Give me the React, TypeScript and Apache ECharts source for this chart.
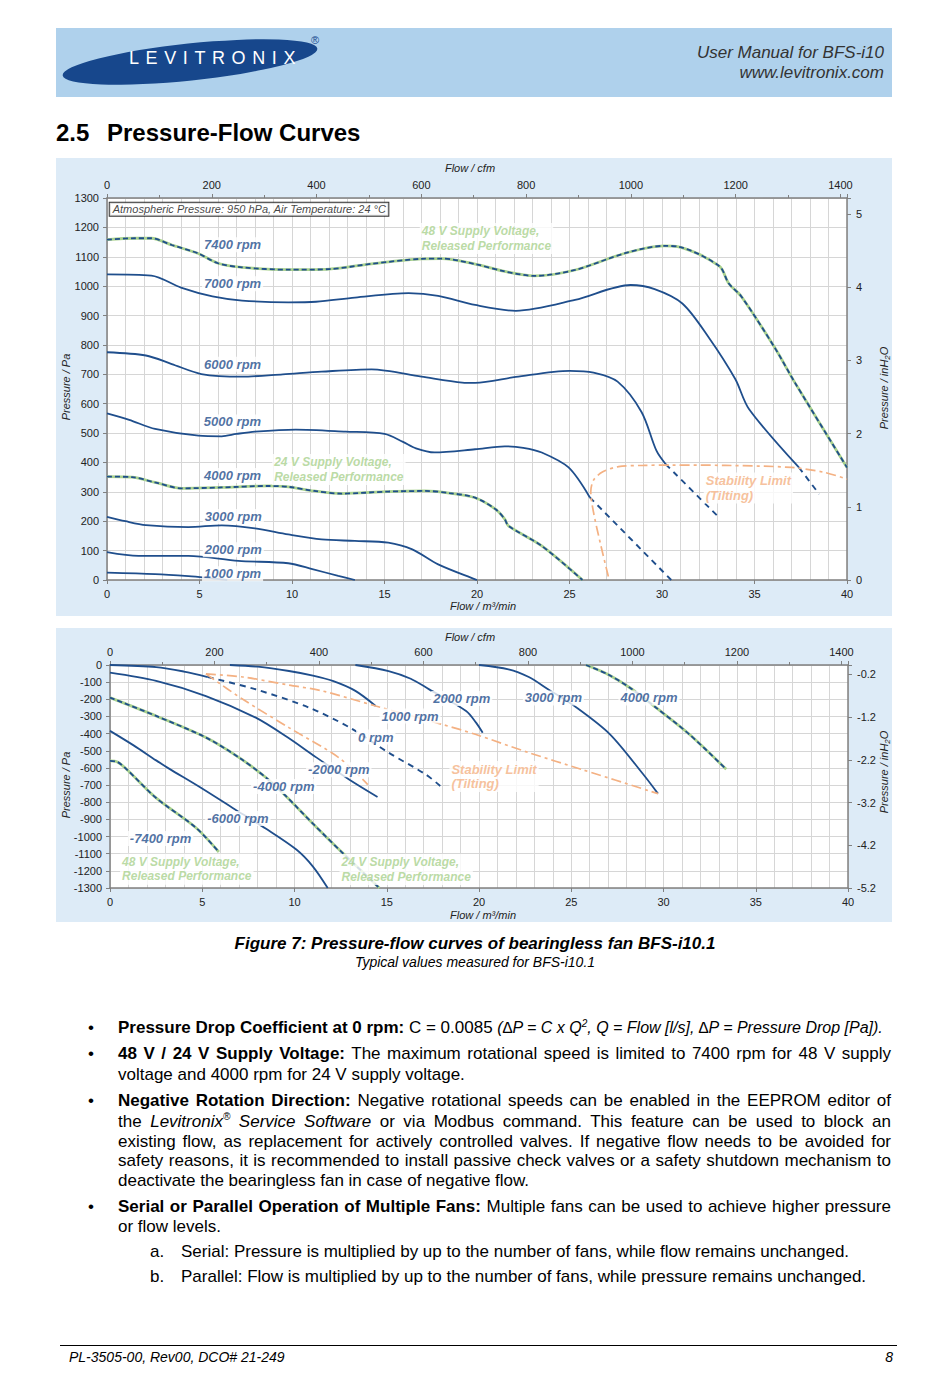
import React, { useEffect, useRef } from 'react';
import * as echarts from 'echarts';

type Pt = [number, number];

// ---------- Upper diagram: flow [m³/min] vs. pressure [Pa] ----------
const upper7400: Pt[] = [[0, 1158], [1.5, 1163], [2.4, 1163], [3.5, 1140], [4.9, 1112], [6.0, 1078], [7.3, 1064], [9.8, 1056], [12, 1058], [14.3, 1076], [17.0, 1093], [18.1, 1094], [19.9, 1075], [21.5, 1050], [23.1, 1035], [25.3, 1055], [28.0, 1112], [30.1, 1137], [30.9, 1134], [33.1, 1068], [33.6, 1010], [34.3, 964], [36.1, 790], [37.2, 670], [40, 383]];
const upper7000: Pt[] = [[0, 1040], [2.4, 1036], [4.0, 995], [5.7, 965], [7.3, 951], [9.8, 945], [11.3, 947], [13.4, 961], [16.3, 976], [17.9, 967], [19.9, 936], [22.1, 916], [25.3, 953], [28.3, 1004], [29.6, 990], [31.1, 941], [32.5, 828], [33.96, 684], [34.7, 582], [37.4, 383]];
const upper7000Unstable: Pt[] = [[37.4, 383], [38.5, 292]];
const upper6000: Pt[] = [[0, 775], [2.1, 764], [3.5, 735], [5.1, 701], [7.3, 692], [9.5, 700], [11.6, 709], [14.3, 717], [17.0, 692], [19.2, 672], [19.9, 671], [22.1, 691], [25.0, 712], [26.3, 706], [27.6, 675], [28.9, 571], [29.7, 440], [30.2, 394]];
const upper6000Unstable: Pt[] = [[30.2, 394], [33.0, 218]];
const upper5000: Pt[] = [[0, 567], [1.2, 545], [2.6, 514], [4.95, 491], [6.2, 489], [7.0, 497], [8.0, 505], [10.2, 512], [12.9, 505], [15.0, 497], [16.0, 470], [16.7, 448], [17.7, 434], [19.9, 445], [21.5, 455], [22.5, 450], [23.5, 434], [24.95, 383], [26.1, 281]];
const upper5000Unstable: Pt[] = [[26.1, 281], [30.5, 0]];
const upper4000: Pt[] = [[0, 352], [1.35, 350], [2.6, 332], [4.05, 312], [6.2, 315], [8.7, 320], [9.8, 317], [11.2, 303], [12.7, 294], [15.2, 301], [17.2, 303], [18.5, 296], [19.9, 280], [21.0, 241], [21.5, 207], [21.7, 184], [23.5, 116], [25.7, 0]];
const upper3000: Pt[] = [[0, 215], [1.0, 200], [2.1, 187], [4.4, 180], [6.2, 186], [8.0, 176], [9.8, 155], [11.6, 138], [13.4, 133], [15.2, 127], [16.5, 104], [17.9, 53], [19.9, 2], [20.0, 0]];
const upper2000: Pt[] = [[0, 95], [1.7, 82], [4.4, 82], [7.1, 65], [9.8, 57], [11.1, 37], [12.5, 14], [13.4, 0]];
const upper1000: Pt[] = [[0, 25], [2.6, 20], [4.4, 13], [5.3, 8], [6.5, 0]];
const upperStability: Pt[] = [[27.1, 12], [26.7, 116], [26.3, 230], [26.15, 300], [26.3, 340], [26.8, 368], [27.65, 386], [29.0, 390], [30.5, 391], [33.4, 390], [37.0, 383], [38.8, 366], [40, 343]];

// ---------- Lower diagram: flow [m³/min] vs. pressure [Pa] ----------
const lower4000: Pt[] = [[25.8, 0], [27.0, -55], [28.2, -134], [29.6, -249], [31.4, -404], [33.4, -608]];
const lower3000: Pt[] = [[20.0, 0], [21.6, -25], [22.7, -70], [23.7, -138], [25.3, -249], [27.1, -404], [28.9, -637], [29.7, -750]];
const lower2000: Pt[] = [[13.3, 0], [15.1, -35], [16.3, -80], [17.3, -142], [19.3, -268], [19.84, -336], [20.2, -395]];
const lower1000: Pt[] = [[6.5, 0], [8.0, -10], [9.7, -35], [11.0, -62], [12.07, -93], [13.3, -151], [14.4, -239]];
const lower0: Pt[] = [[0, 0], [2.5, -12], [4.0, -38], [5.3, -70]];
const lower0Unstable: Pt[] = [[5.3, -70], [7.9, -142], [10.8, -249], [13.0, -365], [15.1, -511], [17.1, -637], [17.9, -705]];
const lowerM2000: Pt[] = [[0, -45], [2.5, -93], [5.2, -181], [7.9, -307], [9.6, -420], [11.2, -540], [13.0, -670], [14.5, -769]];
const lowerM4000: Pt[] = [[0, -190], [2.5, -297], [5.2, -423], [7.0, -540], [8.45, -656], [9.54, -765], [11.0, -925], [12.6, -1095], [14.6, -1300]];
const lowerM6000: Pt[] = [[0, -384], [1.3, -470], [2.5, -556], [3.2, -604], [4.84, -710], [6.65, -833], [8.46, -955], [10.1, -1076], [11.0, -1175], [11.8, -1300]];
const lowerM7400: Pt[] = [[0, -559], [0.4, -565], [0.9, -608], [2.5, -775], [4.66, -949], [5.9, -1090]];
const lowerStabilityUpper: Pt[] = [[5.2, -52], [7.2, -70], [9.7, -117], [11.5, -151], [14.4, -239], [18.0, -346], [19.8, -404], [22.7, -511], [25.6, -610], [29.7, -750]];
const lowerStabilityLower: Pt[] = [[5.2, -52], [7.2, -200], [9.7, -365], [12.4, -540], [13.97, -697]];

// ---------- axes ----------
const FLOW_MAX = 40;
const CFM_PER_M3MIN = 35.3147;
const PA_PER_INH2O = 249.0889;
const UPPER_PA = [0, 1300];
const LOWER_PA = [-1300, 0];

// ---------- annotations: [text, flow, pressure] ----------
const upperRpmNotes: [string, number, number][] = [['7400 rpm', 5.11, 1141], ['7000 rpm', 5.11, 1008], ['6000 rpm', 5.11, 734], ['5000 rpm', 5.1, 538], ['4000 rpm', 5.11, 356], ['3000 rpm', 5.15, 216], ['2000 rpm', 5.15, 103], ['1000 rpm', 5.11, 21]];
const upperGreenNotes: [string, number, number][] = [['48 V Supply Voltage,\nReleased Performance', 16.88, 1162], ['24 V Supply Voltage,\nReleased Performance', 8.9, 376]];
const upperOrangeNotes: [string, number, number][] = [['Stability Limit\n(Tilting)', 32.23, 313]];
const upperBoxNotes: [string, number, number][] = [['Atmospheric Pressure: 950 hPa, Air Temperature: 24 °C', 0.12, 1262]];
const lowerRpmNotes: [string, number, number][] = [['2000 rpm', 17.38, -196], ['3000 rpm', 22.35, -192], ['4000 rpm', 27.53, -192], ['1000 rpm', 14.58, -298], ['0 rpm', 13.31, -420], ['-2000 rpm', 10.6, -610], ['-4000 rpm', 7.62, -709], ['-6000 rpm', 5.13, -895], ['-7400 rpm', 0.94, -1012]];
const lowerGreenNotes: [string, number, number][] = [['48 V Supply Voltage,\nReleased Performance', 0.52, -1190], ['24 V Supply Voltage,\nReleased Performance', 12.41, -1192]];
const lowerOrangeNotes: [string, number, number][] = [['Stability Limit\n(Tilting)', 18.37, -650]];

const NAVY = '#1f4e8c';
const GREEN = '#a9d18e';
const ORANGE = '#f4b183';
const AXIS = '#808080';
const GRID = '#d6d6d6';
const FONT = '"Liberation Sans", Arial, Helvetica, sans-serif';

const SMOOTH = 0.3;
const solid = (data: Pt[]) => ({
  type: 'line', data, showSymbol: false, symbol: 'none', smooth: SMOOTH, silent: true, z: 3,
  lineStyle: { color: NAVY, width: 1.8 },
});
const dashed = (data: Pt[]) => ({
  type: 'line', data, showSymbol: false, symbol: 'none', smooth: SMOOTH, silent: true, z: 3,
  lineStyle: { color: NAVY, width: 1.9, type: [6, 5] },
});
const released = (data: Pt[]) => [
  { type: 'line', data, showSymbol: false, symbol: 'none', smooth: SMOOTH, silent: true, z: 3, lineStyle: { color: GREEN, width: 2.8 } },
  { type: 'line', data, showSymbol: false, symbol: 'none', smooth: SMOOTH, silent: true, z: 4, lineStyle: { color: NAVY, width: 1.8, type: [5, 3] } },
];
const stability = (data: Pt[]) => ({
  type: 'line', data, showSymbol: false, symbol: 'none', smooth: SMOOTH, silent: true, z: 3,
  lineStyle: { color: ORANGE, width: 1.7, type: [10, 4, 3, 4] },
});
const notes = (items: [string, number, number][], style: any) => ({
  type: 'scatter', symbolSize: 1, silent: true, z: 20, itemStyle: { color: 'rgba(0,0,0,0)' },
  data: items.map(([text, q, p]) => ({ value: [q, p], label: { formatter: text } })),
  label: { show: true, position: 'right', distance: 0, backgroundColor: '#fff', padding: [1, 2], fontFamily: FONT, ...style },
});
const rpmStyle = { color: NAVY, fontSize: 13, fontWeight: 'bold', fontStyle: 'italic' };
const greenStyle = { color: GREEN, fontSize: 12, fontWeight: 'bold', fontStyle: 'italic', lineHeight: 14.5 };
const orangeStyle = { color: ORANGE, fontSize: 13, fontWeight: 'bold', fontStyle: 'italic', lineHeight: 14.5 };
const boxStyle = { color: '#111', fontSize: 11, fontStyle: 'italic', borderColor: '#000', borderWidth: 1, padding: [1, 2, 1, 3] };

const axisLine = { show: true, onZero: false, lineStyle: { color: AXIS, width: 1.5 } };
const tickLabel = { color: '#222', fontSize: 11, fontFamily: FONT };
const plain = (v: number) => String(v);

function buildAxes(pa: number[], upper: boolean) {
  const inMin = pa[0] / PA_PER_INH2O;
  const inMax = pa[1] / PA_PER_INH2O;
  return {
    xAxis: [
      {
        type: 'value', position: 'bottom', min: 0, max: FLOW_MAX, interval: 5, axisLine,
        axisTick: { show: true, length: 4, lineStyle: { color: AXIS } },
        minorTick: { show: false, splitNumber: 5 },
        axisLabel: { ...tickLabel, margin: 8, formatter: plain },
        splitLine: { show: true, lineStyle: { color: GRID, width: 1 } },
        minorSplitLine: { show: true, lineStyle: { color: GRID, width: 1 } },
      },
      {
        type: 'value', position: 'top', min: 0, max: FLOW_MAX * CFM_PER_M3MIN, interval: 200, axisLine,
        axisTick: { show: true, length: 4, lineStyle: { color: AXIS } },
        minorTick: { show: true, splitNumber: 2, length: 3, lineStyle: { color: AXIS } },
        axisLabel: { ...tickLabel, margin: 8, formatter: (v: number) => (Math.abs(v % 200) < 1e-6 ? String(v) : '') },
        splitLine: { show: false },
      },
    ],
    yAxis: [
      {
        type: 'value', position: 'left', min: pa[0], max: pa[1], interval: 100, axisLine,
        axisTick: { show: true, length: 4, lineStyle: { color: AXIS } },
        axisLabel: { ...tickLabel, margin: 8, formatter: plain },
        splitLine: { show: true, lineStyle: { color: GRID, width: 1 } },
      },
      {
        type: 'value', position: 'right', min: inMin, max: inMax, interval: 1, axisLine,
        axisTick: { show: true, length: 4, lineStyle: { color: AXIS } },
        axisLabel: {
          ...tickLabel, margin: 9,
          formatter: (v: number) => upper ? (Number.isInteger(v) ? String(v) : '') : (v > -0.1 ? '' : v.toFixed(1)),
        },
        splitLine: { show: false },
      },
    ],
  };
}

function axisNames(topY: number, bottomY: number, leftY: number, rightY: number) {
  const base = { fill: '#222', fontSize: 11, fontStyle: 'italic', fontFamily: FONT, align: 'center', verticalAlign: 'middle' };
  return [
    { type: 'text', x: 414, y: topY, silent: true, style: { ...base, text: 'Flow / cfm' } },
    { type: 'text', x: 427, y: bottomY, silent: true, style: { ...base, text: 'Flow / m³/min' } },
    { type: 'text', x: 10, y: leftY, rotation: Math.PI / 2, silent: true, style: { ...base, text: 'Pressure / Pa' } },
    {
      type: 'text', x: 828, y: rightY, rotation: Math.PI / 2, silent: true,
      style: {
        ...base, text: '{a|Pressure / inH}{b|2}{a|O}',
        rich: {
          a: { fill: '#222', fontSize: 11, fontStyle: 'italic', fontFamily: FONT },
          b: { fill: '#222', fontSize: 8, fontStyle: 'italic', fontFamily: FONT, lineHeight: 15, verticalAlign: 'bottom' },
        },
      },
    },
  ];
}

const upperOption: any = {
  animation: false,
  backgroundColor: '#ddebf7',
  textStyle: { fontFamily: FONT },
  grid: { left: 51, top: 40, width: 740, height: 382, show: true, backgroundColor: '#fff', borderWidth: 0 },
  ...buildAxes(UPPER_PA, true),
  graphic: axisNames(10, 448, 229, 230),
  series: [
    ...released(upper7400),
    solid(upper7000), dashed(upper7000Unstable),
    solid(upper6000), dashed(upper6000Unstable),
    solid(upper5000), dashed(upper5000Unstable),
    ...released(upper4000),
    solid(upper3000), solid(upper2000), solid(upper1000),
    stability(upperStability),
    notes(upperRpmNotes, rpmStyle),
    notes(upperGreenNotes, greenStyle),
    notes(upperOrangeNotes, orangeStyle),
    notes(upperBoxNotes, boxStyle),
  ],
};

const lowerOption: any = {
  animation: false,
  backgroundColor: '#ddebf7',
  textStyle: { fontFamily: FONT },
  grid: { left: 54, top: 37, width: 738, height: 223, show: true, backgroundColor: '#fff', borderWidth: 0 },
  ...buildAxes(LOWER_PA, false),
  graphic: axisNames(9, 287, 157, 144),
  series: [
    solid(lower0), dashed(lower0Unstable),
    solid(lower1000), solid(lower2000), solid(lower3000),
    ...released(lower4000),
    solid(lowerM2000),
    ...released(lowerM4000),
    solid(lowerM6000),
    ...released(lowerM7400),
    stability(lowerStabilityUpper), stability(lowerStabilityLower),
    notes(lowerRpmNotes, rpmStyle),
    notes(lowerGreenNotes, greenStyle),
    notes(lowerOrangeNotes, orangeStyle),
  ],
};

function ChartPanel({ option, left, top, width, height }: any) {
  const ref = useRef<HTMLDivElement>(null);
  useEffect(() => {
    const chart = echarts.init(ref.current as HTMLDivElement, null, { renderer: 'svg' });
    chart.setOption(option);
    return () => chart.dispose();
  }, [option]);
  return (
    <div
      ref={ref}
      style={{ position: 'absolute', left, top, width, height, outline: '1px solid #a0a0a0', outlineOffset: -1 }}
    />
  );
}

const abs = (style: any) => ({ position: 'absolute' as const, fontFamily: FONT, color: '#000', ...style });

function JLine({ y, justify = true, children }: any) {
  return (
    <div style={abs({ left: 118, width: 773, top: y - 10, fontSize: 17, lineHeight: '20px', textAlign: justify ? 'justify' : 'left', textAlignLast: justify ? 'justify' : 'left' })}>
      {children}
    </div>
  );
}
const Bullet = ({ y }: any) => <div style={abs({ left: 88, top: y - 10, fontSize: 17, lineHeight: '20px' })}>•</div>;

export default function App() {
  return (
    <div style={{ position: 'absolute', left: 0, top: 0, width: 950, height: 1379, background: '#fff', overflow: 'hidden' }}>
      {/* header */}
      <div style={{ position: 'absolute', left: 56, top: 28, width: 836, height: 69, background: '#afd1ec' }} />
      <svg style={{ position: 'absolute', left: 56, top: 28 }} width={300} height={69}>
        <ellipse cx={134} cy={34} rx={128} ry={18.5} fill="#17478c" transform="rotate(-6 134 34)" />
        <text x={73} y={36} fill="#fff" fontFamily={FONT} fontSize={18} letterSpacing={6.6}>LEVITRONIX</text>
        <text x={255} y={16} fill="#17478c" fontFamily={FONT} fontSize={11}>®</text>
      </svg>
      <div style={abs({ right: 950 - 884, top: 43, fontSize: 17, fontStyle: 'italic', color: '#333', lineHeight: '20px', textAlign: 'right' })}>User Manual for BFS-i10</div>
      <div style={abs({ right: 950 - 884, top: 63, fontSize: 17, fontStyle: 'italic', color: '#333', lineHeight: '20px', textAlign: 'right' })}>www.levitronix.com</div>

      {/* section title */}
      <div style={abs({ left: 56, top: 118, fontSize: 24, fontWeight: 'bold', lineHeight: '30px' })}>2.5</div>
      <div style={abs({ left: 107, top: 118, fontSize: 24, fontWeight: 'bold', lineHeight: '30px' })}>Pressure-Flow Curves</div>

      <ChartPanel option={upperOption} left={56} top={158} width={836} height={458} />
      <ChartPanel option={lowerOption} left={56} top={628} width={836} height={294} />

      {/* caption */}
      <div style={abs({ left: 0, width: 950, top: 934, fontSize: 17, fontWeight: 'bold', fontStyle: 'italic', textAlign: 'center', lineHeight: '20px' })}>
        Figure 7: Pressure-flow curves of bearingless fan BFS-i10.1
      </div>
      <div style={abs({ left: 0, width: 950, top: 954, fontSize: 14, fontStyle: 'italic', textAlign: 'center', lineHeight: '17px' })}>
        Typical values measured for BFS-i10.1
      </div>

      {/* bullet text */}
      <Bullet y={1028} />
      <JLine y={1028} justify={false}>
        <b>Pressure Drop Coefficient at 0 rpm:</b> C = 0.0085 <i style={{ fontSize: 16 }}>(∆P = C x Q<sup style={{ fontSize: 10, lineHeight: 0 }}>2</sup>, Q = Flow [l/s], ∆P = Pressure Drop [Pa]).</i>
      </JLine>
      <Bullet y={1054} />
      <JLine y={1054}><b>48 V / 24 V Supply Voltage:</b> The maximum rotational speed is limited to 7400 rpm for 48 V supply</JLine>
      <JLine y={1075} justify={false}>voltage and 4000 rpm for 24 V supply voltage.</JLine>
      <Bullet y={1101} />
      <JLine y={1101}><b>Negative Rotation Direction:</b> Negative rotational speeds can be enabled in the EEPROM editor of</JLine>
      <JLine y={1122}>the <i>Levitronix<sup style={{ fontSize: 10, lineHeight: 0 }}>®</sup> Service Software</i> or via Modbus command. This feature can be used to block an</JLine>
      <JLine y={1142}>existing flow, as replacement for actively controlled valves. If negative flow needs to be avoided for</JLine>
      <JLine y={1161}>safety reasons, it is recommended to install passive check valves or a safety shutdown mechanism to</JLine>
      <JLine y={1181} justify={false}>deactivate the bearingless fan in case of negative flow.</JLine>
      <Bullet y={1207} />
      <JLine y={1207}><b>Serial or Parallel Operation of Multiple Fans:</b> Multiple fans can be used to achieve higher pressure</JLine>
      <JLine y={1227} justify={false}>or flow levels.</JLine>
      <div style={abs({ left: 150, top: 1242, fontSize: 17, lineHeight: '20px' })}>a.</div>
      <div style={abs({ left: 181, top: 1242, fontSize: 17, lineHeight: '20px', whiteSpace: 'nowrap' })}>Serial: Pressure is multiplied by up to the number of fans, while flow remains unchanged.</div>
      <div style={abs({ left: 150, top: 1267, fontSize: 17, lineHeight: '20px' })}>b.</div>
      <div style={abs({ left: 181, top: 1267, fontSize: 17, lineHeight: '20px', whiteSpace: 'nowrap' })}>Parallel: Flow is multiplied by up to the number of fans, while pressure remains unchanged.</div>

      {/* footer */}
      <div style={{ position: 'absolute', left: 60, top: 1345, width: 837, height: 1, background: '#000' }} />
      <div style={abs({ left: 69, top: 1349, fontSize: 14, fontStyle: 'italic', lineHeight: '17px' })}>PL-3505-00, Rev00, DCO# 21-249</div>
      <div style={abs({ right: 950 - 893, top: 1349, fontSize: 14, fontStyle: 'italic', lineHeight: '17px' })}>8</div>
    </div>
  );
}
